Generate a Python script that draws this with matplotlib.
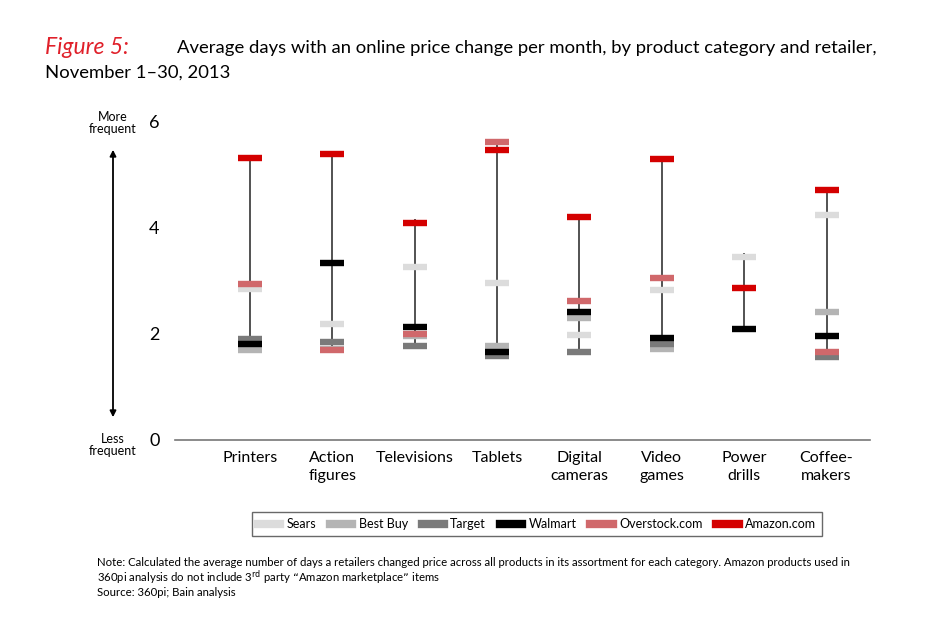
import numpy as np
import matplotlib.pyplot as plt
from matplotlib.lines import Line2D
from matplotlib.patches import FancyArrowPatch

plt.rcParams['font.family'] = ['Lato', 'DejaVu Sans']

categories = ["Printers", "Action\nfigures", "Televisions", "Tablets",
              "Digital\ncameras", "Video\ngames", "Power\ndrills", "Coffee-\nmakers"]

retailers = ["Sears", "Best Buy", "Target", "Walmart", "Overstock.com", "Amazon.com"]
colors = ["#dcdcdc", "#b4b4b4", "#7a7a7a", "#000000", "#d0686b", "#d40000"]

# average days with a price change, per category (nan = not carried)
sears = [2.84, 2.19, 3.25, 2.96, 1.98, 2.83, 3.45, 4.24]
best_buy = [1.70, 1.72, 1.96, 1.76, 2.30, 1.71, np.nan, 2.40]
target = [1.90, 1.85, 1.76, 1.58, 1.66, 1.81, np.nan, 1.56]
walmart = [1.81, 3.33, 2.13, 1.66, 2.40, 1.91, 2.08, 1.95]
overstock = [2.94, 1.70, 1.99, 5.60, 2.62, 3.04, np.nan, 1.66]
amazon = [5.30, 5.38, 4.09, 5.46, 4.20, 5.29, 2.85, 4.70]

series = [sears, best_buy, target, walmart, overstock, amazon]

fig = plt.figure(figsize=(9.5, 6.24), dpi=100)
ax = fig.add_axes([0.184, 0.295, 0.732, 0.511])

x = np.arange(len(categories))
data = np.array(series)

# =========================================
# range lines
# =========================================
lo = np.nanmin(data, axis=0)
hi = np.nanmax(data, axis=0)
ax.vlines(x, lo, hi + 0.06, color="#444444", lw=1.3, zorder=1)

# =========================================
# retailer markers
# =========================================
for vals, c in zip(series, colors):
    ax.plot(x, vals, ls="none", marker="_", ms=17.5, mew=4.6, color=c, zorder=2)

ax.set_xlim(-0.91, 7.53)
ax.set_ylim(0, 6)
ax.set_yticks([0, 2, 4, 6])
ax.set_xticks(x)
ax.set_xticklabels(categories, fontsize=11.5, linespacing=1.35)
ax.tick_params(axis="both", length=0)
ax.tick_params(axis="y", labelsize=13, pad=11)
ax.tick_params(axis="x", pad=8)
for s in ["top", "right", "left"]:
    ax.spines[s].set_visible(False)
ax.spines["bottom"].set_color("#777777")
ax.spines["bottom"].set_linewidth(1.2)

# =========================================
# frequency arrow
# =========================================
fig.patches.append(FancyArrowPatch(
    (113 / 950, 1 - 420 / 624), (113 / 950, 1 - 147 / 624),
    transform=fig.transFigure, arrowstyle="<|-|>", mutation_scale=9,
    color="black", lw=1.3))
fig.text(113 / 950, 1 - 123 / 624, "More\nfrequent", ha="center", va="center",
         fontsize=9, linespacing=1.0)
fig.text(113 / 950, 1 - 445 / 624, "Less\nfrequent", ha="center", va="center",
         fontsize=9, linespacing=1.0)

# =========================================
# title
# =========================================
fig.text(45 / 950, 1 - 48 / 624, "Figure 5:", color="#e0202a", fontsize=16.5,
         style="italic", va="center", ha="left")
fig.text(177 / 950, 1 - 48 / 624,
         "Average days with an online price change per month, by product category and retailer,",
         fontsize=13.3, va="center", ha="left")
fig.text(45 / 950, 1 - 73 / 624, "November 1\u201330, 2013", fontsize=13.3,
         va="center", ha="left")

# =========================================
# legend
# =========================================
handles = [Line2D([0], [0], color=c, lw=6) for c in colors]
leg = fig.legend(handles, retailers, loc="center", ncol=6,
                 bbox_to_anchor=(537 / 950, 1 - 524 / 624), fontsize=9,
                 frameon=True, fancybox=False, handlelength=1.8,
                 columnspacing=1.1, handletextpad=0.5, borderpad=0.45)
leg.get_frame().set_edgecolor("#444444")
leg.get_frame().set_linewidth(1.0)

# =========================================
# notes
# =========================================
fig.text(97 / 950, 1 - 563 / 624,
         "Note: Calculated the average number of days a retailers changed price across all products in its assortment for each category. Amazon products used in",
         fontsize=8.2, va="center", ha="left")
fig.text(97 / 950, 1 - 578 / 624,
         "360pi analysis do not include 3$^{\\mathrm{rd}}$ party \u201cAmazon marketplace\u201d items",
         fontsize=8.2, va="center", ha="left")
fig.text(97 / 950, 1 - 593 / 624, "Source: 360pi; Bain analysis", fontsize=8.2,
         va="center", ha="left")

fig.savefig("out.png", dpi=100)
